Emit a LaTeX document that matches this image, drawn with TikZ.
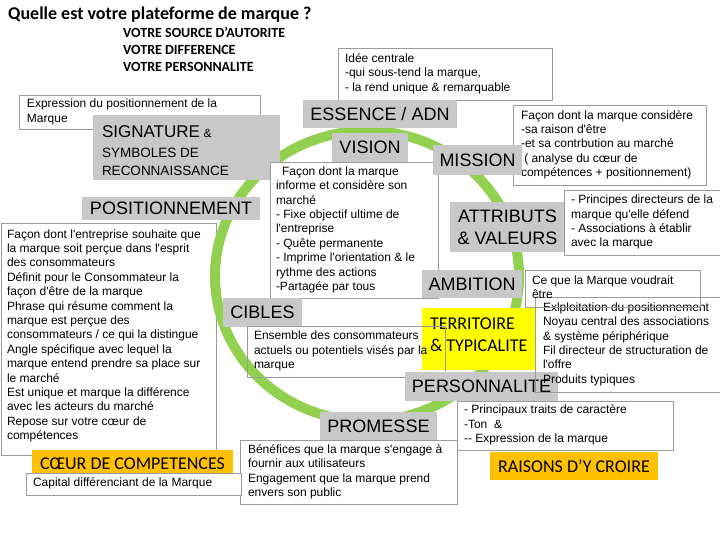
\documentclass[tikz,border=0pt]{standalone}
\usepackage{fontspec}
\newfontfamily\arialf{Liberation Sans}
\newfontfamily\calibf{Carlito}
\definecolor{lblgray}{RGB}{200,200,200}
\definecolor{edgegray}{RGB}{155,155,155}
\definecolor{ringgreen}{RGB}{146,208,80}
\definecolor{terryellow}{RGB}{255,255,0}
\definecolor{raisorange}{RGB}{255,192,0}
\newcommand{\boxlines}[2]{\makebox[#1][l]{\begin{tabular}{@{}l@{}}#2\end{tabular}}}

\begin{document}
\begin{tikzpicture}[x=1pt, y=-1pt,
    lbl/.style={fill=lblgray, inner sep=0pt, font=\arialf\fontsize{18}{22}\selectfont},
    descr/.style={draw=edgegray, line width=0.8pt, fill=white, inner sep=0pt, font=\arialf\fontsize{12}{14.4}\selectfont},
    hollow/.style={descr, fill=none},
    badge/.style={inner sep=0pt, font=\calibf\fontsize{18}{22}\selectfont},
    ring/.style={draw=ringgreen, line width=10pt}]
        \useasboundingbox (0,0) rectangle (720,540);

        % titre
        \node[anchor=west, inner sep=0pt, font=\calibf\bfseries\fontsize{18}{22}\selectfont] (titre) at (8,15) {Quelle est votre plateforme de marque ?};
        \node[anchor=north west, inner sep=0pt, align=left, font=\calibf\bfseries\fontsize{14}{17}\selectfont] (sources) at (123,27.5) {VOTRE SOURCE D’AUTORITE\\VOTRE DIFFERENCE\\VOTRE PERSONNALITE};

        % positionnement (sous l'anneau)
        \node[descr, minimum width=215pt, minimum height=232pt] (posdesc) at (108.5,339) {\boxlines{203pt}{Façon dont l'entreprise souhaite que\\la marque soit perçue dans l'esprit\\des consommateurs\\Définit pour le Consommateur la\\façon d'être de la marque\\Phrase qui résume comment la\\marque est perçue des\\consommateurs / ce qui la distingue\\Angle spécifique avec lequel la\\marque entend prendre sa place sur\\le marché\\Est unique et marque la différence\\avec les acteurs du marché\\Repose sur votre cœur de\\compétences\\[6pt]}};

        % anneau
        \draw[ring] (367,276) ellipse [x radius=152, y radius=145];

        % haut
        \node[descr, minimum width=241pt, minimum height=34pt] (expr) at (139.5,112) {\boxlines{225pt}{Expression du positionnement de la\\Marque}};
        \node[lbl, minimum width=187pt, minimum height=64pt, font=\arialf\fontsize{13.5}{18}\selectfont] (signature) at (186.5,148) {\boxlines{169pt}{\rule{0pt}{21.6pt}{\fontsize{17}{18}\selectfont SIGNATURE} {\fontsize{12}{18}\selectfont\&}\\[2pt]SYMBOLES DE\\RECONNAISSANCE}};
        \node[descr, minimum width=214pt, minimum height=52pt] (idee) at (445,74) {\boxlines{200pt}{Idée centrale\\-qui sous-tend la marque,\\- la rend unique \& remarquable}};
        \node[lbl, minimum width=154pt, minimum height=28pt] (essence) at (380,114) {ESSENCE / ADN};
        \node[lbl, minimum width=76pt, minimum height=29pt] (vision) at (370,147.5) {VISION};
        \node[descr, minimum width=168pt, minimum height=136pt] (visdesc) at (354,230) {\boxlines{156pt}{\hspace{6pt}Façon dont la marque\\informe et considère son\\marché\\- Fixe objectif ultime de\\l'entreprise\\- Quête permanente\\- Imprime l'orientation \& le\\rythme des actions\\-Partagée par tous}};
        \node[descr, minimum width=193pt, minimum height=80pt] (misdesc) at (609.5,145) {\boxlines{177pt}{Façon dont la marque considère\\-sa raison d'être\\-et sa contrbution au marché\\\hspace{3.3pt}( analyse du cœur de\\compétences + positionnement)}};
        \node[lbl, minimum width=89pt, minimum height=30pt] (mission) at (477.5,160) {MISSION};
        \node[lbl, minimum width=178pt, minimum height=23pt] (posit) at (171,208.5) {POSITIONNEMENT};

        % droite
        \node[lbl, minimum width=115pt, minimum height=50pt, align=center] (attrib) at (507.5,227) {ATTRIBUTS\\\& VALEURS};
        \node[descr, minimum width=158pt, minimum height=65pt] (attdesc) at (643,222.5) {\boxlines{144pt}{- Principes directeurs de la\\marque qu'elle défend\\- Associations à établir\\avec la marque}};
        \node[lbl, minimum width=100pt, minimum height=28pt] (ambition) at (472,284) {AMBITION};
        \node[badge, fill=terryellow, minimum width=113pt, minimum height=62pt] (territoire) at (478.5,339) {\boxlines{97pt}{TERRITOIRE\\\& TYPICALITE\\[5pt]}};

        % bas
        \node[lbl, minimum width=79pt, minimum height=29pt] (cibles) at (262.5,312.5) {CIBLES};
        \node[hollow, minimum width=198pt, minimum height=51pt] (cibdesc) at (346,351.5) {\boxlines{184pt}{Ensemble des consommateurs\\actuels ou potentiels visés par la\\marque}};
        \node[lbl, minimum width=153pt, minimum height=29pt] (perso) at (481.5,386.5) {PERSONNALITE};
        \node[hollow, minimum width=187pt, minimum height=95pt] (terdesc) at (628.5,344.5) {\boxlines{171pt}{Exlploitation du positionnement\\Noyau central des associations\\\& système périphérique\\Fil directeur de structuration de\\l'offre\\Produits typiques}};
        \node[hollow, minimum width=175pt, minimum height=37pt] (ambdesc) at (612.5,288.5) {\boxlines{161pt}{Ce que la Marque voudrait\\être}};
        \node[descr, minimum width=216pt, minimum height=49pt] (perdesc) at (565,425.5) {\boxlines{202pt}{- Principaux traits de caractère\\-Ton \ \&\\-- Expression de la marque}};
        \node[lbl, minimum width=117pt, minimum height=28pt] (promesse) at (378.5,426) {PROMESSE};
        \node[descr, minimum width=217pt, minimum height=64pt] (prodesc) at (348.5,472) {\boxlines{201pt}{Bénéfices que la marque s'engage à\\fournir aux utilisateurs\\Engagement que la marque prend\\envers son public}};
        \node[badge, fill=raisorange, minimum width=168pt, minimum height=28pt] (raisons) at (574,466) {RAISONS D’Y CROIRE};
        \node[badge, fill=raisorange, minimum width=201pt, minimum height=28pt] (coeur) at (132.5,464) {CŒUR DE COMPETENCES};
        \node[descr, minimum width=215pt, minimum height=22pt] (capital) at (133.5,484) {\boxlines{201pt}{Capital différenciant de la Marque}};
\end{tikzpicture}
\end{document}
